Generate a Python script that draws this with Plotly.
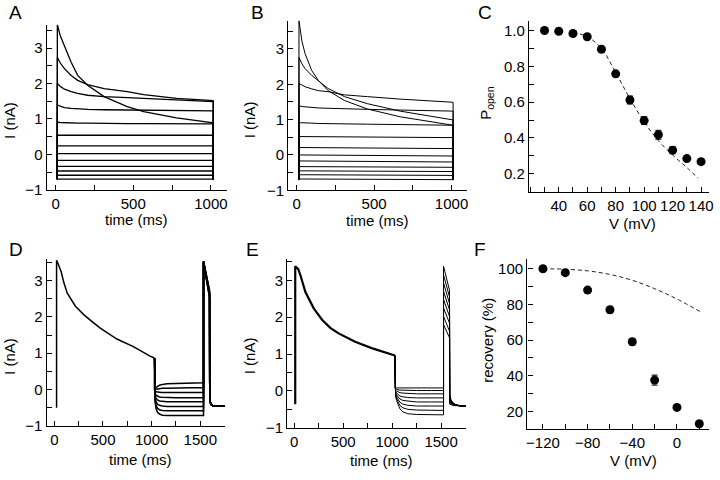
import plotly.graph_objects as go

# ---------------- Panel A (current traces, model 1) ----------------
A_PULSE = [11, 1015]
A_HOLD = -0.70
A_T = [11, 30, 57, 100, 142, 206, 312, 461, 567, 779, 1015]
A_DECAY = [
    [3.67, 3.35, 3.06, 2.60, 2.23, 1.95, 1.63, 1.35, 1.21, 1.03, 0.89],
    [2.74, 2.58, 2.42, 2.23, 2.09, 1.97, 1.86, 1.77, 1.69, 1.58, 1.52],
    [2.00, 1.92, 1.84, 1.77, 1.72, 1.67, 1.63, 1.60, 1.58, 1.54, 1.49],
    [1.40, 1.36, 1.32, 1.30, 1.28, 1.27, 1.26, 1.25, 1.24, 1.23, 1.23],
    [0.91, 0.90, 0.89, 0.89, 0.88, 0.88, 0.87, 0.87, 0.87, 0.86, 0.86],
]
A_FLAT = [0.54, 0.24, 0.02, -0.17, -0.34, -0.47, -0.59, -0.70]

# ---------------- Panel B (current traces, model 2) ----------------
B_PULSE = [15, 1010]
B_HOLD = -0.71
B_T = [15, 34, 55, 97, 140, 203, 309, 457, 668, 1010]
B_DECAY = [
    [3.80, 3.22, 2.86, 2.39, 2.11, 1.82, 1.54, 1.30, 1.08, 0.84],
    [2.76, 2.58, 2.44, 2.25, 2.10, 1.88, 1.65, 1.45, 1.24, 0.99],
    [2.02, 1.98, 1.93, 1.87, 1.82, 1.79, 1.70, 1.65, 1.58, 1.49],
    [1.39, 1.37, 1.36, 1.34, 1.33, 1.32, 1.30, 1.29, 1.27, 1.24],
    [0.91, 0.91, 0.90, 0.90, 0.89, 0.89, 0.88, 0.87, 0.86, 0.84],
]
B_FLAT_ON = [0.52, 0.21, 0.00, -0.17, -0.33, -0.45, -0.56, -0.68]
B_FLAT_OFF = [0.49, 0.18, -0.03, -0.20, -0.35, -0.47, -0.58, -0.70]

# ---------------- Panel C (open probability) ----------------
C_V = [30, 40, 50, 60, 70, 80, 90, 100, 110, 120, 130, 140]
C_P = [1.0, 0.996, 0.983, 0.965, 0.895, 0.758, 0.612, 0.497, 0.418, 0.332, 0.285, 0.268]
C_ERR = [0.005, 0.005, 0.008, 0.008, 0.01, 0.012, 0.022, 0.022, 0.025, 0.02, 0.012, 0.015]
C_FIT_V = [50, 60, 70, 80, 90, 100, 110, 120, 130, 138]
C_FIT_P = [0.99, 0.965, 0.90, 0.765, 0.62, 0.49, 0.385, 0.305, 0.235, 0.175]

# ---------------- Panel D (recovery protocol, model 1) ----------------
D_T = [23, 23, 40, 71, 100, 133, 217, 302, 388, 472, 643, 812, 983, 1030]
D_I = [-0.50, 3.55, 3.45, 3.23, 2.92, 2.65, 2.29, 2.06, 1.87, 1.69, 1.39, 1.18, 0.92, 0.87]
D_REC_T = [1030, 1035, 1045, 1060, 1080, 1110, 1160, 1250, 1400, 1533]
D_REC = [
    [0.00, 0.03, 0.06, 0.09, 0.12, 0.14, 0.16, 0.17, 0.18, 0.19],
    [-0.02, -0.01, 0.01, 0.02, 0.03, 0.04, 0.04, 0.05, 0.05, 0.05],
    [-0.03, -0.05, -0.06, -0.07, -0.07, -0.08, -0.08, -0.08, -0.08, -0.08],
    [-0.04, -0.10, -0.15, -0.18, -0.20, -0.21, -0.22, -0.22, -0.22, -0.22],
    [-0.05, -0.15, -0.23, -0.28, -0.31, -0.32, -0.33, -0.33, -0.33, -0.33],
    [-0.06, -0.21, -0.33, -0.40, -0.43, -0.45, -0.46, -0.46, -0.46, -0.46],
    [-0.07, -0.27, -0.42, -0.51, -0.55, -0.57, -0.58, -0.58, -0.58, -0.58],
    [-0.08, -0.33, -0.52, -0.62, -0.67, -0.70, -0.71, -0.71, -0.71, -0.71],
]
D_TEST_T = [1533, 1595]
D_TEST_PEAK = [3.48, 3.49, 3.50, 3.51, 3.52, 3.52, 3.53, 3.53]
D_TEST_END = [2.52, 2.55, 2.58, 2.61, 2.64, 2.67, 2.70, 2.73]
D_TAIL_T = [1597, 1610, 1630, 1750]
D_TAIL_I = [-0.30, -0.41, -0.44, -0.45]

# ---------------- Panel E (recovery protocol, model 2) ----------------
E_T = [10, 10, 41, 64, 114, 199, 284, 368, 453, 622, 791, 1028]
E_I = [-0.36, 3.38, 3.30, 3.13, 2.68, 2.24, 1.93, 1.71, 1.56, 1.33, 1.16, 0.96]
E_REC_T = [1028, 1035, 1045, 1060, 1080, 1110, 1160, 1250, 1400, 1525]
E_REC = [
    [0.07, 0.07, 0.08, 0.08, 0.08, 0.08, 0.08, 0.08, 0.08, 0.08],
    [0.06, 0.05, 0.04, 0.03, 0.02, 0.02, 0.01, 0.01, 0.01, 0.01],
    [0.05, 0.02, 0.00, -0.03, -0.05, -0.06, -0.07, -0.08, -0.08, -0.08],
    [0.04, -0.01, -0.06, -0.10, -0.14, -0.16, -0.18, -0.19, -0.19, -0.19],
    [0.03, -0.04, -0.11, -0.17, -0.22, -0.26, -0.28, -0.30, -0.30, -0.30],
    [0.02, -0.07, -0.16, -0.24, -0.31, -0.36, -0.39, -0.41, -0.41, -0.41],
    [0.01, -0.10, -0.21, -0.31, -0.40, -0.46, -0.50, -0.52, -0.53, -0.53],
    [0.00, -0.13, -0.26, -0.38, -0.49, -0.57, -0.62, -0.64, -0.65, -0.65],
]
E_TEST_T = [1525, 1586]
E_TEST_PEAK = [1.80, 2.02, 2.25, 2.48, 2.70, 2.93, 3.15, 3.38]
E_TEST_END = [1.44, 1.62, 1.84, 2.02, 2.20, 2.37, 2.55, 2.73]
E_TAIL_T = [1588, 1600, 1620, 1650, 1700, 1755]
E_TAIL = [
    [-0.36, -0.38, -0.39, -0.40, -0.41, -0.41],
    [-0.32, -0.35, -0.38, -0.39, -0.41, -0.41],
    [-0.28, -0.33, -0.37, -0.39, -0.41, -0.41],
    [-0.25, -0.31, -0.36, -0.39, -0.41, -0.41],
    [-0.21, -0.29, -0.35, -0.38, -0.41, -0.41],
    [-0.18, -0.27, -0.34, -0.38, -0.41, -0.41],
    [-0.14, -0.25, -0.33, -0.38, -0.41, -0.41],
    [-0.11, -0.23, -0.32, -0.37, -0.41, -0.41],
]

# ---------------- Panel F (recovery vs voltage) ----------------
F_V = [-120, -100, -80, -60, -40, -20, 0, 20]
F_R = [100, 97.8, 88, 77, 59, 37.5, 22.2, 13]
F_ERR = [1, 1, 1.2, 1.8, 1.8, 2.8, 1, 1]
F_FIT_V = [-120, -100, -80, -60, -40, -20, 0, 22]
F_FIT_R = [100, 99.7, 98.8, 96.8, 93.5, 88.8, 83, 75.5]

# tick labels
TIME_TICKS_AB = [0, 500, 1000]
TIME_TICKS_DE = [0, 500, 1000, 1500]
CURRENT_TICKS = [-1, 0, 1, 2, 3]
C_XTICKS = [40, 60, 80, 100, 120, 140]
C_YTICKS = [0.2, 0.4, 0.6, 0.8, 1.0]
C_YTICK_TEXT = ["0.2", "0.4", "0.6", "0.8", "1.0"]
F_XTICKS = [-120, -80, -40, 0]
F_YTICKS = [20, 40, 60, 80, 100]

FONT = "Liberation Sans, Arial, Helvetica, sans-serif"
BLACK = "black"

fig = go.Figure()


def line(xs, ys, ax, width=1.3, color=BLACK, dash=None, shape="linear"):
    fig.add_trace(go.Scatter(
        x=xs, y=ys, mode="lines", xaxis="x" + ax, yaxis="y" + ax,
        line=dict(color=color, width=width, dash=dash, shape=shape),
        showlegend=False, hoverinfo="skip"))


# Panel A
for vals in A_DECAY:
    line([A_PULSE[0]] + A_T + [A_PULSE[1]], [A_HOLD] + vals + [A_HOLD], "", 1.3)
for v in A_FLAT:
    line([A_PULSE[0], A_PULSE[0], A_PULSE[1], A_PULSE[1]], [A_HOLD, v, v, A_HOLD], "", 1.3)

# Panel B
for vals in B_DECAY:
    line([B_PULSE[0]] + B_T + [B_PULSE[1]], [B_HOLD] + vals + [B_HOLD], "2", 1.0)
for v0, v1 in zip(B_FLAT_ON, B_FLAT_OFF):
    line([B_PULSE[0], B_PULSE[0], B_PULSE[1], B_PULSE[1]], [B_HOLD, v0, v1, B_HOLD], "2", 1.0)

# Panel C
line(C_FIT_V, C_FIT_P, "3", 1.0, "#222", "4px,3px", "spline")
fig.add_trace(go.Scatter(
    x=C_V, y=C_P, mode="markers", xaxis="x3", yaxis="y3",
    marker=dict(color=BLACK, size=9),
    error_y=dict(type="data", array=C_ERR, color=BLACK, thickness=1, width=3),
    showlegend=False, hoverinfo="skip"))

# Panel D
line(D_T, D_I, "4", 1.5)
for rec, pk, en in zip(D_REC, D_TEST_PEAK, D_TEST_END):
    xs = [D_T[-1]] + D_REC_T + D_TEST_T + D_TAIL_T
    ys = [D_I[-1]] + rec + [pk, en] + D_TAIL_I
    line(xs, ys, "4", 1.5)

# Panel E
for rec, pk, en, tail in zip(E_REC, E_TEST_PEAK, E_TEST_END, E_TAIL):
    xs = [E_T[-1]] + E_REC_T + E_TEST_T + E_TAIL_T
    ys = [E_I[-1]] + rec + [pk, en] + tail
    line(xs, ys, "5", 1.0)
line(E_T, E_I, "5", 2.2)

# Panel F
line(F_FIT_V, F_FIT_R, "6", 1.0, "#222", "4px,3px", "spline")
fig.add_trace(go.Scatter(
    x=F_V, y=F_R, mode="markers", xaxis="x6", yaxis="y6",
    marker=dict(color=BLACK, size=9),
    error_y=dict(type="data", array=F_ERR, color=BLACK, thickness=1, width=3),
    showlegend=False, hoverinfo="skip"))

W, H = 720, 480


def dom_x(p0, p1):
    return [p0 / W, p1 / W]


def dom_y(top, bottom):
    return [1 - bottom / H, 1 - top / H]


def axis(domain, rng, tickvals, minor_dtick, anchor, ticktext=None, tick0=0):
    d = dict(domain=domain, range=rng, anchor=anchor, showline=True, linecolor=BLACK,
             linewidth=1.4, ticks="inside", ticklen=5, tickwidth=1.2, tickcolor=BLACK,
             tickmode="array", tickvals=tickvals, showgrid=False, zeroline=False,
             tickfont=dict(family=FONT, size=15, color=BLACK),
             ticklabeloverflow="allow",
             minor=dict(ticks="inside", ticklen=5, tickwidth=1.2, tickcolor=BLACK,
                        dtick=minor_dtick, tick0=tick0, showgrid=False),
             fixedrange=True)
    if ticktext is not None:
        d["ticktext"] = ticktext
    return d


layout = dict(
    width=W, height=H, margin=dict(l=0, r=0, t=0, b=0),
    paper_bgcolor="white", plot_bgcolor="white", showlegend=False,
    font=dict(family=FONT, size=15, color=BLACK),
    xaxis=axis(dom_x(46, 227.3), [-57.6, 1102], TIME_TICKS_AB, 250, "y"),
    yaxis=axis(dom_y(25.2, 193), [-1, 3.66], CURRENT_TICKS, 0.5, "x"),
    xaxis2=axis(dom_x(289.3, 469.3), [-54, 1100], TIME_TICKS_AB, 250, "y2"),
    yaxis2=axis(dom_y(21, 193.5), [-1, 3.8], CURRENT_TICKS, 0.5, "x2"),
    xaxis3=axis(dom_x(531.7, 713), [19.1, 145.6], C_XTICKS, 10, "y3"),
    yaxis3=axis(dom_y(21.7, 195), [0.1, 1.051], C_YTICKS, 0.1, "x3", C_YTICK_TEXT),
    xaxis4=axis(dom_x(46, 225.5), [-78.6, 1753], TIME_TICKS_DE, 250, "y4"),
    yaxis4=axis(dom_y(263.3, 433.3), [-1, 3.59], CURRENT_TICKS, 0.5, "x4"),
    xaxis5=axis(dom_x(288.3, 468.3), [-71, 1755], TIME_TICKS_DE, 250, "y5"),
    yaxis5=axis(dom_y(263.3, 435), [-1, 3.58], CURRENT_TICKS, 0.5, "x5"),
    xaxis6=axis(dom_x(530, 713.3), [-134, 29], F_XTICKS, 20, "y6"),
    yaxis6=axis(dom_y(263.3, 436.4), [10, 105.5], F_YTICKS, 10, "x6"),
)
fig.update_layout(**layout)


def ann(text, px, py, size=15, angle=0):
    fig.add_annotation(text=text, x=px / W, y=1 - py / H, xref="paper", yref="paper",
                       showarrow=False, textangle=angle, xanchor="center", yanchor="middle",
                       font=dict(family=FONT, size=size, color=BLACK))


for letter, px, py in [("A", 15, 13), ("B", 258, 13), ("C", 487, 13),
                       ("D", 15, 254), ("E", 253, 254), ("F", 482, 254)]:
    ann(letter, px, py, size=19)

ann("I (nA)", 9, 122, angle=-90)
ann("I (nA)", 251, 122, angle=-90)
ann("P<sub>open</sub>", 489, 105, angle=-90)
ann("I (nA)", 9, 362, angle=-90)
ann("I (nA)", 251, 362, angle=-90)
ann("recovery (%)", 490, 346, angle=-90)

ann("time (ms)", 136, 223)
ann("time (ms)", 379, 224)
ann("V (mV)", 636, 227)
ann("time (ms)", 140, 467)
ann("time (ms)", 383, 468)
ann("V (mV)", 637, 468)

fig.write_html("out.html", config={"displayModeBar": False},
               post_script="document.body.style.margin='0px';document.body.style.overflow='hidden';")
